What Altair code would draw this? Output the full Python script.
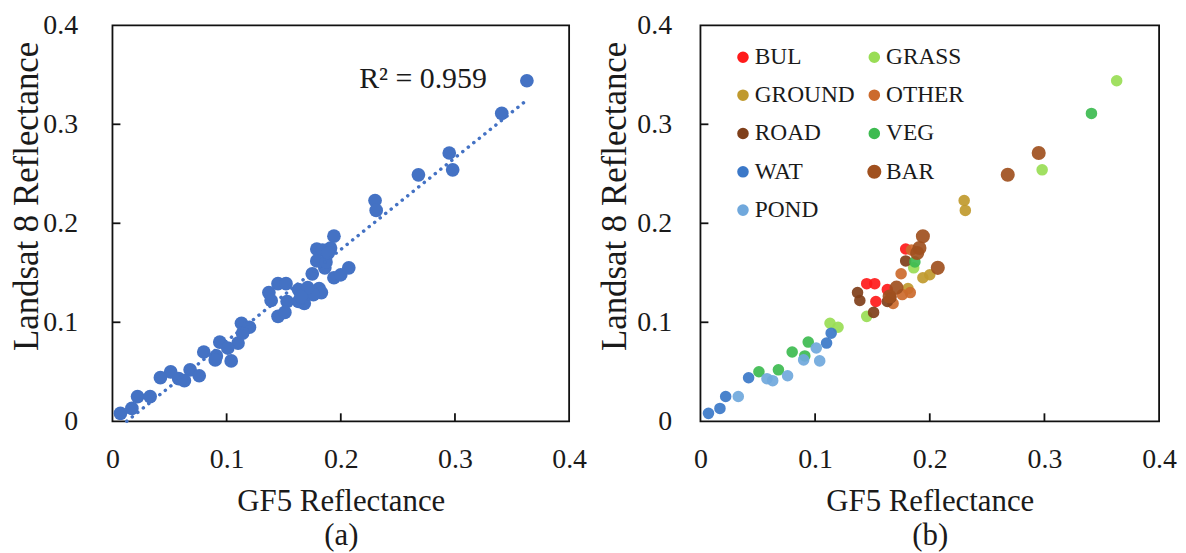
import altair as alt
import pandas as pd

FONT = "Liberation Serif"
TXT = "#1a1a1a"

# series (drawing) order
classes = ["BUL", "GRASS", "GROUND", "OTHER", "ROAD", "VEG", "WAT", "BAR", "POND"]
colors = ["#FF1A1A", "#99DD55", "#C09A2E", "#CC6A2C", "#7F3F1A", "#3DBB50", "#3B78C8", "#A0501E", "#70A8DC"]
sizes = [135, 135, 135, 135, 135, 135, 135, 200, 135]
# legend is filled column by column
legend_order = ["BUL", "GROUND", "ROAD", "WAT", "POND", "GRASS", "OTHER", "VEG", "BAR"]

bul_x = [0.145, 0.152, 0.153, 0.179, 0.163]
bul_y = [0.139, 0.139, 0.121, 0.174, 0.133]
grass_x = [0.113, 0.120, 0.145, 0.186, 0.298, 0.363]
grass_y = [0.099, 0.095, 0.106, 0.155, 0.254, 0.344]
ground_x = [0.230, 0.231, 0.194, 0.200, 0.181]
ground_y = [0.223, 0.213, 0.145, 0.148, 0.134]
other_x = [0.175, 0.183, 0.176, 0.168, 0.184]
other_y = [0.149, 0.130, 0.128, 0.119, 0.173]
road_x = [0.137, 0.139, 0.151, 0.179, 0.163, 0.166]
road_y = [0.130, 0.122, 0.110, 0.162, 0.121, 0.125]
veg_x = [0.051, 0.068, 0.080, 0.091, 0.094, 0.187, 0.341]
veg_y = [0.050, 0.052, 0.070, 0.066, 0.080, 0.161, 0.311]
wat_x = [0.007, 0.017, 0.022, 0.042, 0.110, 0.114]
wat_y = [0.008, 0.013, 0.025, 0.044, 0.079, 0.089]
bar_x = [0.194, 0.191, 0.189, 0.207, 0.171, 0.165, 0.268, 0.295]
bar_y = [0.187, 0.175, 0.170, 0.155, 0.135, 0.126, 0.249, 0.271]
pond_x = [0.033, 0.058, 0.063, 0.076, 0.090, 0.101, 0.104]
pond_y = [0.025, 0.043, 0.041, 0.046, 0.062, 0.074, 0.061]

trend_x = [0.0125, 0.3634]
trend_y = [0.0, 0.3248]
r2_label = "R² = 0.959"
r2_pos = [0.272, 0.346]

axis_values = [0, 0.1, 0.2, 0.3, 0.4]
tick_values = [0.1, 0.2, 0.3]

all_x = [bul_x, grass_x, ground_x, other_x, road_x, veg_x, wat_x, bar_x, pond_x]
all_y = [bul_y, grass_y, ground_y, other_y, road_y, veg_y, wat_y, bar_y, pond_y]
rows = []
for c, xs_, ys_ in zip(classes, all_x, all_y):
    for xv, yv in zip(xs_, ys_):
        rows.append({"cls": c, "gf5": xv, "l8": yv})
df = pd.DataFrame(rows)
tick_df = pd.DataFrame({"t": tick_values})
trend_df = pd.DataFrame({"gf5": trend_x, "l8": trend_y})
r2_df = pd.DataFrame({"gf5": [r2_pos[0]], "l8": [r2_pos[1]], "label": [r2_label]})

leg_colors = [colors[classes.index(c)] for c in legend_order]
leg_sizes = [sizes[classes.index(c)] for c in legend_order]

H = 398


def scales():
    return (alt.Scale(domain=[0, 0.4], nice=False, zero=False),
            alt.Scale(domain=[0, 0.4], nice=False, zero=False))


def axes(W, letter, ypad):
    ax = alt.Axis(values=axis_values, format=".1~f", labelFlush=False, labelPadding=24,
                  title=["GF5 Reflectance", letter], titleX=W / 2, titleY=90,
                  titleAlign="center", titleBaseline="alphabetic", titleLineHeight=33.5)
    ay = alt.Axis(values=axis_values, format=".1~f", labelFlush=False, labelPadding=ypad,
                  title="Landsat 8 Reflectance", titleX=-75.5, titleY=171.5, titleFontSize=35,
                  titleAlign="center", titleBaseline="alphabetic", titleAngle=270)
    return ax, ay


def tick_layers(xs, ys, ax, ay):
    tx = alt.Chart(tick_df).mark_rule(color="#111", strokeWidth=1.8).encode(
        x=alt.X("t:Q", scale=xs, axis=ax), y=alt.value(H), y2=alt.value(H - 8))
    ty = alt.Chart(tick_df).mark_rule(color="#111", strokeWidth=1.8).encode(
        y=alt.Y("t:Q", scale=ys, axis=ay), x=alt.value(0), x2=alt.value(8))
    return [tx, ty]


# Panel (a)
WA = 459
xs, ys = scales()
ax, ay = axes(WA, "(a)", 35)
pts_a = alt.Chart(df).mark_circle(size=190, opacity=1, color="#4472C4").encode(
    x=alt.X("gf5:Q", scale=xs, axis=ax), y=alt.Y("l8:Q", scale=ys, axis=ay))
trend = alt.Chart(trend_df).mark_line(color="#4472C4", strokeWidth=3.5, strokeDash=[0.1, 7],
                                      strokeCap="round").encode(
    x=alt.X("gf5:Q", scale=xs, axis=ax), y=alt.Y("l8:Q", scale=ys, axis=ay))
r2 = alt.Chart(r2_df).mark_text(font=FONT, fontSize=30, color=TXT, align="center",
                                baseline="middle").encode(
    x=alt.X("gf5:Q", scale=xs, axis=ax), y=alt.Y("l8:Q", scale=ys, axis=ay), text="label:N")
left = alt.layer(pts_a, trend, r2, *tick_layers(xs, ys, ax, ay)).properties(width=WA, height=H)

# Panel (b)
WB = 461
xs2, ys2 = scales()
bx, by = axes(WB, "(b)", 29)
leg = dict(orient="none", legendX=31, legendY=20, columns=2, title=None,
           labelFont=FONT, labelFontSize=23.5, labelColor=TXT, symbolType="circle",
           symbolStrokeWidth=0, labelOffset=0, rowPadding=13.5, columnPadding=7, padding=0,
           symbolOpacity=1)
pts_b = alt.Chart(df).mark_circle(opacity=0.92).encode(
    x=alt.X("gf5:Q", scale=xs2, axis=bx), y=alt.Y("l8:Q", scale=ys2, axis=by),
    color=alt.Color("cls:N", scale=alt.Scale(domain=legend_order, range=leg_colors),
                    legend=alt.Legend(**leg)),
    size=alt.Size("cls:N", scale=alt.Scale(type="ordinal", domain=legend_order, range=leg_sizes),
                  legend=alt.Legend(**leg)))
right = alt.layer(pts_b, *tick_layers(xs2, ys2, bx, by)).properties(width=WB, height=H)

chart = alt.hconcat(left, right, spacing=132, bounds="flush").resolve_scale(
    color="independent", size="independent"
).properties(
    padding={"left": 0, "top": 1, "right": 0, "bottom": 0}
).configure_axis(
    labelFont=FONT, labelFontSize=28, labelColor=TXT, titleFont=FONT, titleFontSize=31,
    titleFontWeight="normal", titleColor=TXT, grid=False, domain=False, ticks=False, tickSize=0
).configure_view(
    stroke="#111", strokeWidth=1.8
)

chart.save("out.html", embed_options={"renderer": "svg", "actions": False})
